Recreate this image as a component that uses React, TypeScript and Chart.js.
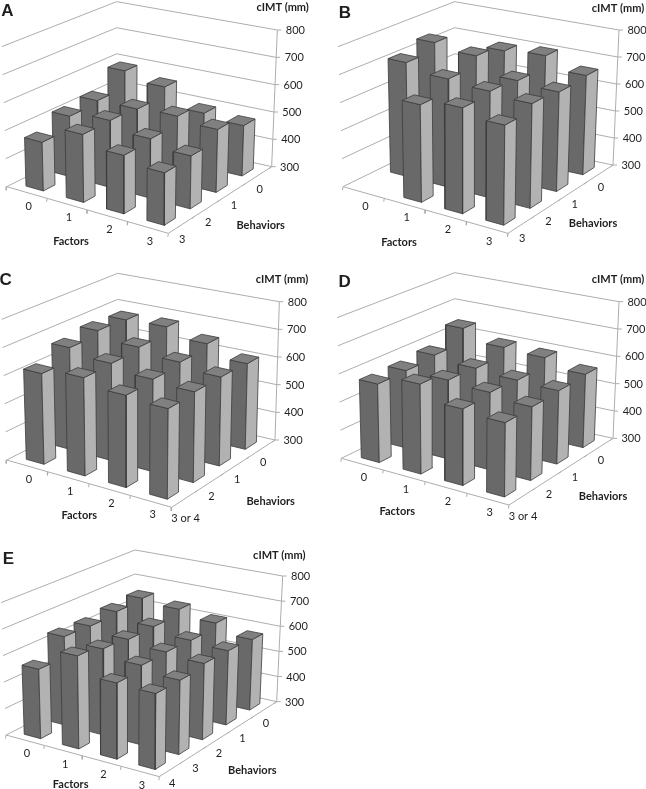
import React, { useEffect, useRef } from "react";
import { Chart, registerables } from "chart.js";

Chart.register(...registerables);

const valueTicks = [300, 400, 500, 600, 700, 800];
const factorLabels = ["0", "1", "2", "3"];
const behaviorsFour = ["0", "1", "2", "3"];
const behaviorsThreeOrFour = ["0", "1", "2", "3 or 4"];
const behaviorsFive = ["0", "1", "2", "3", "4"];

// cIMT (mm): one row per behavior count, one column per factor count
const valuesA = [
  [591, 562, 496, 482],
  [528, 531, 538, 523],
  [519, 539, 509, 484],
  [473, 538, 502, 479],
];
const valuesB = [
  [null, 695, 706, 662],
  [742, 724, 665, 655],
  [713, 687, 676, 665],
  [null, 642, 666, 641],
];
const valuesC = [
  [677, 681, 649, 607],
  [684, 656, 634, 613],
  [668, 646, 624, 614],
  [621, 643, 618, 608],
];
const valuesD = [
  [642, 602, 595, 565],
  [590, 575, 565, 560],
  [580, 581, 572, 556],
  [578, 614, 564, 553],
];
const valuesE = [
  [654, 639, 613, 577],
  [647, 618, 595, 585],
  [636, 616, 599, 587],
  [640, 626, 597, 574],
  [561, 645, 579, 574],
];

type Pt = [number, number];
type Panel = {
  letter: string;
  values: (number | null)[][];
  behaviors: string[];
  ox: number; oy: number; w: number; h: number;
  L: Pt; F: Pt; R: Pt; K: Pt; LT: Pt; FT: Pt; RT: Pt; KT: Pt;
  letterAt: Pt; titleAt: Pt; factorsAt: Pt; behaviorsAt: Pt;
};

// Box corners, measured in 1/3 px from each panel's origin
const panels: Panel[] = [
  { letter: "A", values: valuesA, behaviors: behaviorsFour, ox: 0, oy: 0, w: 323, h: 262,
    L: [20, 560], F: [505, 700], R: [815, 500], K: [350, 396],
    LT: [5, 140], FT: [510, 255], RT: [832, 90], KT: [350, 5],
    letterAt: [22, 35], titleAt: [848, 22], factorsAt: [213, 725], behaviorsAt: [782, 677] },
  { letter: "B", values: valuesB, behaviors: behaviorsFour, ox: 323, oy: 0, w: 323, h: 262,
    L: [60, 560], F: [555, 700], R: [870, 495], K: [395, 396],
    LT: [45, 140], FT: [560, 255], RT: [888, 90], KT: [395, 5],
    letterAt: [66, 40], titleAt: [885, 25], factorsAt: [228, 726], behaviorsAt: [810, 671] },
  { letter: "C", values: valuesC, behaviors: behaviorsThreeOrFour, ox: 0, oy: 260, w: 323, h: 270,
    L: [20, 600], F: [515, 742], R: [825, 540], K: [353, 431],
    LT: [5, 178], FT: [520, 297], RT: [838, 125], KT: [353, 40],
    letterAt: [17, 62], titleAt: [846, 58], factorsAt: [238, 767], behaviorsAt: [812, 725] },
  { letter: "D", values: valuesD, behaviors: behaviorsThreeOrFour, ox: 323, oy: 260, w: 323, h: 270,
    L: [55, 595], F: [558, 735], R: [870, 535], K: [395, 429],
    LT: [42, 173], FT: [563, 290], RT: [888, 125], KT: [395, 38],
    letterAt: [65, 68], titleAt: [885, 58], factorsAt: [223, 755], behaviorsAt: [840, 709] },
  { letter: "E", values: valuesE, behaviors: behaviorsFive, ox: 0, oy: 520, w: 323, h: 269,
    L: [18, 645], F: [478, 770], R: [830, 545], K: [405, 450],
    LT: [3, 248], FT: [483, 350], RT: [848, 168], KT: [405, 90],
    letterAt: [25, 117], titleAt: [838, 107], factorsAt: [212, 794], behaviorsAt: [757, 752] },
];

const FRONT_FACE = "#696969";
const SIDE_FACE = "#b2b2b2";
const TOP_FACE = "#808080";
const EDGE = "#3c3c3c";
const GRID = "#adadad";
const TEXT = "#1f1f1f";
const BAR_HALF = 0.215;

const lerp = (a: Pt, b: Pt, t: number): Pt => [a[0] + (b[0] - a[0]) * t, a[1] + (b[1] - a[1]) * t];

function makeProject(p: Panel) {
  // u runs left to front along the factors, w runs back to front along the behaviors, t is wall height
  return (u: number, w: number, t: number): Pt => {
    const floor = lerp(lerp(p.K, p.R, u), lerp(p.L, p.F, u), w);
    const top = lerp(lerp(p.KT, p.RT, u), lerp(p.LT, p.FT, u), w);
    const q = lerp(floor, top, t);
    return [p.ox + q[0] / 3, p.oy + q[1] / 3];
  };
}

const heightOf = (v: number) => (v - valueTicks[0]) / (valueTicks[valueTicks.length - 1] - valueTicks[0]);
const asPoints = (pts: Pt[]) => pts.map(([x, y]) => ({ x, y }));

function line(pts: Pt[], color = GRID, width = 1) {
  return { data: asPoints(pts), borderColor: color, borderWidth: width, fill: false, pointRadius: 0, tension: 0 };
}
function face(pts: Pt[], color: string) {
  return {
    data: asPoints([...pts, pts[0]]),
    borderColor: EDGE,
    borderWidth: 0.8,
    backgroundColor: color,
    fill: "shape",
    pointRadius: 0,
    tension: 0,
  };
}

function buildDatasets(p: Panel) {
  const at = makeProject(p);
  const nf = factorLabels.length;
  const nb = p.behaviors.length;
  const out: any[] = [];
  valueTicks.forEach((v) => {
    const t = heightOf(v);
    out.push(line([at(0, 1, t), at(0, 0, t), at(1, 0, t)]));
  });
  out.push(line([at(1, 0, 0), at(1, 0, 1)]));
  valueTicks.forEach((v) => {
    const t = heightOf(v);
    const a = at(1, 0, t);
    out.push(line([a, [a[0] + 4, a[1]]]));
  });
  out.push(line([at(0, 1, 0), at(1, 1, 0), at(1, 0, 0)]));
  for (let i = 0; i <= nf; i++) {
    const a = at(i / nf, 1, 0);
    out.push(line([a, [a[0] - 0.5, a[1] + 3.5]]));
  }
  for (let i = 0; i < nb; i++) {
    const a = at(1, i / nb, 0);
    out.push(line([a, [a[0] - 2.5, a[1] + 2]]));
  }
  for (let b = 0; b < nb; b++) {
    for (let f = 0; f < nf; f++) {
      const v = p.values[b][f];
      if (v === null) continue;
      const t = heightOf(v);
      const u0 = (f + 0.5 - BAR_HALF) / nf;
      const u1 = (f + 0.5 + BAR_HALF) / nf;
      const w0 = (b + 0.5 - BAR_HALF) / nb;
      const w1 = (b + 0.5 + BAR_HALF) / nb;
      out.push(face([at(u0, w1, 0), at(u1, w1, 0), at(u1, w1, t), at(u0, w1, t)], FRONT_FACE));
      out.push(face([at(u1, w1, 0), at(u1, w0, 0), at(u1, w0, t), at(u1, w1, t)], SIDE_FACE));
      out.push(face([at(u0, w1, t), at(u1, w1, t), at(u1, w0, t), at(u0, w0, t)], TOP_FACE));
    }
  }
  // Chart.js paints the first dataset last
  return out.reverse();
}

function labelPlugin(p: Panel) {
  return {
    id: "panelLabels" + p.letter,
    afterDraw(chart: any) {
      const at = makeProject(p);
      const nf = factorLabels.length;
      const nb = p.behaviors.length;
      const { ctx, scales } = chart;
      const put = (s: string, q: Pt, font: string) => {
        ctx.font = font;
        ctx.fillText(s, scales.x.getPixelForValue(q[0]), scales.y.getPixelForValue(q[1]));
      };
      const page = (q: Pt): Pt => [p.ox + q[0] / 3, p.oy + q[1] / 3];
      ctx.save();
      ctx.fillStyle = TEXT;
      ctx.textAlign = "center";
      ctx.textBaseline = "middle";
      const small = "11px Lato";
      const bold = "bold 11px Lato";
      valueTicks.forEach((v) => {
        const a = at(1, 0, heightOf(v));
        put(String(v), [a[0] + 18, a[1] + 0.5], small);
      });
      factorLabels.forEach((s, i) => {
        const a = at((i + 0.5) / nf, 1, 0);
        put(s, [a[0] + 1.7, a[1] + 13.5], small);
      });
      p.behaviors.forEach((s, i) => {
        const a = at(1, (i + 0.5) / nb, 0);
        put(s, [a[0] + 1, a[1] + (s.length > 1 ? 19.5 : 14)], small);
      });
      put("cIMT (mm)", page(p.titleAt), bold);
      put("Factors", page(p.factorsAt), bold);
      put("Behaviors", page(p.behaviorsAt), bold);
      put(p.letter, page(p.letterAt), "bold 17px 'Liberation Sans'");
      ctx.restore();
    },
  };
}

function PanelChart({ panel }: { panel: Panel }) {
  const ref = useRef<HTMLCanvasElement>(null);
  useEffect(() => {
    const chart = new Chart(ref.current as HTMLCanvasElement, {
      type: "line",
      data: { datasets: buildDatasets(panel) },
      options: {
        animation: false,
        responsive: false,
        events: [],
        layout: { padding: 0 },
        plugins: { legend: { display: false }, tooltip: { enabled: false } },
        datasets: { line: { clip: false } },
        scales: {
          x: { type: "linear", display: false, min: panel.ox, max: panel.ox + panel.w },
          y: { type: "linear", display: false, min: panel.oy, max: panel.oy + panel.h, reverse: true },
        },
      } as any,
      plugins: [labelPlugin(panel)],
    } as any);
    return () => chart.destroy();
  }, [panel]);
  return (
    <canvas
      ref={ref}
      width={panel.w}
      height={panel.h}
      style={{ position: "absolute", left: panel.ox, top: panel.oy, width: panel.w, height: panel.h }}
    />
  );
}

export default function App() {
  return (
    <div style={{ position: "absolute", left: 0, top: 0, width: 646, height: 789, background: "#fff", overflow: "hidden" }}>
      {panels.map((p) => (
        <PanelChart key={p.letter} panel={p} />
      ))}
    </div>
  );
}
